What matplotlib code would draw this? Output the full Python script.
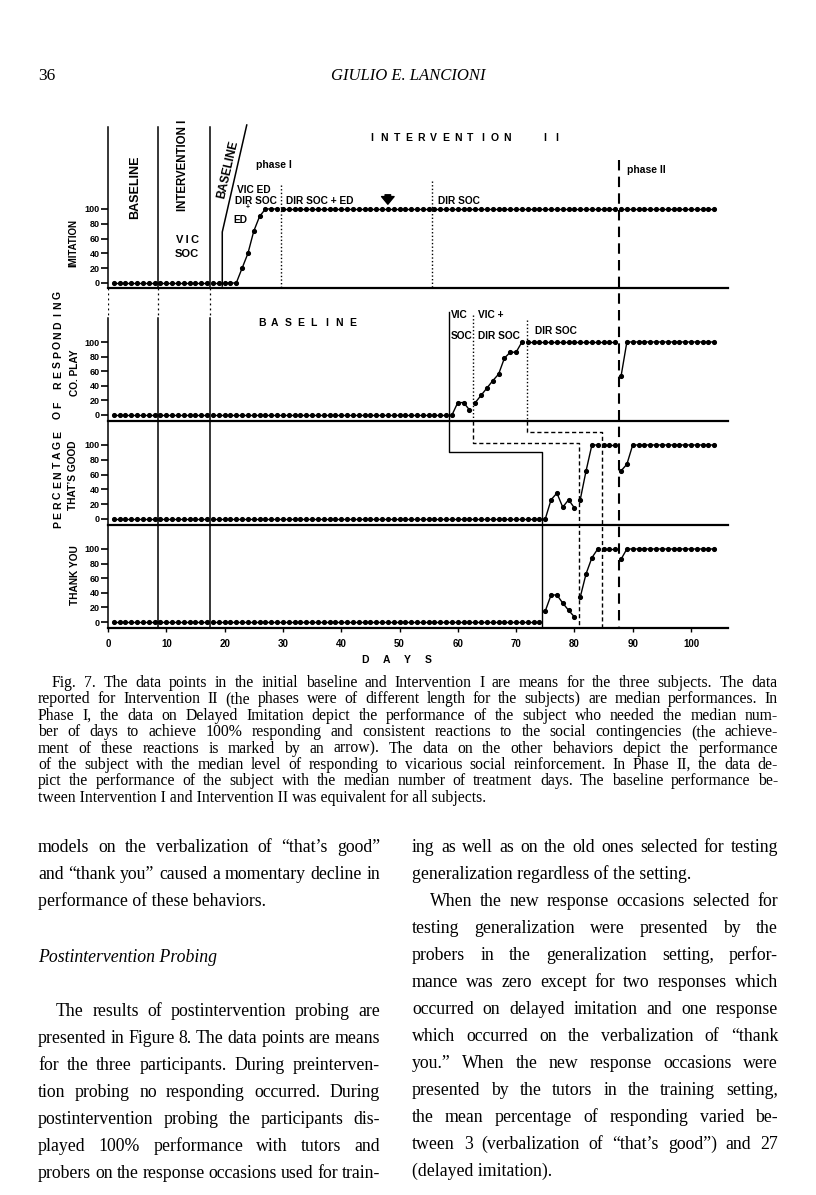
import matplotlib
matplotlib.use("Agg")
import matplotlib.pyplot as plt
import numpy as np

plt.rcParams['font.family'] = ['Liberation Sans', 'DejaVu Sans']
W, H = 816, 1195

# data: one value per session day, days 1..104
days = np.arange(1, 105)
imitation = [0]*22 + [20, 40, 70, 90] + [100]*78
co_play = [0]*58 + [0, 17, 17, 7, 17, 27, 37, 47, 56, 78, 86, 86, 100] + [100]*16 + [53] + [100]*16
thats_good = [0]*75 + [26, 35, 16, 26, 15, 26, 65, 100, 100, 100, 100, 100, 65, 74] + [100]*15
thank_you = [0]*74 + [15, 37, 37, 26, 16, 7, 34, 66, 88, 100, 100, 100, 100, 86] + [100]*16

# phase change days for each behaviour
imit_breaks = [8.5, 17.5, 19.6, 29.6, 55.6, 87.6]
play_breaks = [8.5, 17.5, 58.5, 62.6, 71.8, 87.6]
good_breaks = [8.5, 17.5, 74.5, 80.8, 84.7, 87.6]
thank_breaks = [8.5, 17.5, 74.5, 80.8, 84.7, 87.6]

yticks = [0, 20, 40, 60, 80, 100]
xticks = [0, 10, 20, 30, 40, 50, 60, 70, 80, 90, 100]

# panel layout (pixel row of 0 and of 100 in each panel)
zero = [283, 415, 519, 622]
full = [209, 342, 445, 549]

fig = plt.figure(figsize=(W/100, H/100), dpi=100)
ax = fig.add_axes([108/W, 1-628/H, 620/W, 511/H])
ax.set_xlim(0, 620/5.83)
ax.set_ylim(628, 117)
for s in ['top', 'right', 'left']:
    ax.spines[s].set_visible(False)
ax.spines['bottom'].set_linewidth(1.6)

def ypix(k, v):
    return zero[k] - np.asarray(v, dtype=float)*(zero[k]-full[k])/100.0

def plot_series(k, vals, breaks):
    y = ypix(k, vals)
    edges = [0] + breaks + [200]
    for a, b in zip(edges[:-1], edges[1:]):
        m = (days > a) & (days < b)
        ax.plot(days[m], y[m], '-', color='k', lw=1.0, marker='o', ms=2.7,
                mfc='k', mec='k', clip_on=False)

plot_series(0, imitation, imit_breaks)
plot_series(1, co_play, play_breaks)
plot_series(2, thats_good, good_breaks)
plot_series(3, thank_you, thank_breaks)

# ticks
yt, yl = [], []
for k in range(4):
    for v in yticks:
        yt.append(float(ypix(k, v)))
        yl.append(str(v))
ax.set_yticks(yt)
ax.set_yticklabels(yl)
ax.set_xticks(xticks)
ax.tick_params(axis='y', length=5, width=1.2, pad=1, labelsize=6.5)
ax.tick_params(axis='x', length=3, width=1, pad=5, labelsize=7)
for lb in ax.get_yticklabels() + ax.get_xticklabels():
    lb.set_fontweight('bold')

# phase lines
lk = dict(color='k', lw=1.1, clip_on=False)
dot = (0, (1, 1.6))
dash = (0, (3, 2))
for d in [0, 8.5, 17.5]:
    ax.plot([d, d], [127, 288], **lk)
    ax.plot([d, d], [288, 318], color='k', lw=0.9, ls=(0, (1.5, 2.5)))
    ax.plot([d, d], [318, 628], **lk)
for yy in [288, 421, 525]:
    ax.plot([0, 620/5.83], [yy, yy], color='k', lw=1.6, clip_on=False)
ax.plot([19.6, 19.6, 23.8], [286, 232, 125], **lk)
ax.plot([29.6, 29.6], [185, 288], color='k', lw=1, ls=dot)
ax.plot([55.6, 55.6], [181, 288], color='k', lw=1, ls=dot)
ax.plot([87.6, 87.6], [160, 628], color='k', lw=1.5, ls=(0, (5, 3)))
ax.plot([58.5, 58.5, 74.5, 74.5], [312, 452, 452, 628], color='k', lw=1)
ax.plot([62.6, 62.6], [315, 421], color='k', lw=1, ls=dot)
ax.plot([62.6, 62.6, 80.8, 80.8], [421, 443, 443, 628], color='k', lw=1, ls=dash)
ax.plot([71.8, 71.8], [320, 421], color='k', lw=1, ls=dot)
ax.plot([71.8, 71.8, 84.7, 84.7], [421, 432, 432, 628], color='k', lw=1, ls=dash)
ax.annotate('', xy=(48.0, 207), xytext=(48.0, 192),
            arrowprops=dict(arrowstyle='simple,head_width=0.9,head_length=0.55,tail_width=0.4',
                            fc='k', ec='k'))


def T(x, y, s, **kw):
    kw.setdefault('ha', 'left')
    kw.setdefault('va', 'center')
    return fig.text(x/W, 1 - y/H, s, **kw)


def spaced(s, x0, step, y, vertical=False, **kw):
    for i, ch in enumerate(s):
        if ch == ' ':
            continue
        if vertical:
            T(x0, y - i*step, ch, ha='center', rotation=90, **kw)
        else:
            T(x0 + i*step, y, ch, ha='center', **kw)


b = dict(fontweight='bold')
T(135, 187, 'BASELINE', rotation=90, ha='center', fontsize=9, **b)
T(183, 165, 'INTERVENTION I', rotation=90, ha='center', fontsize=8.3, **b)
T(187, 240, 'V\u2009I\u2009C', ha='center', fontsize=8, **b)
T(187, 254, 'SOC', ha='center', fontsize=8, **b)
T(228, 170, 'BASELINE', rotation=77, ha='center', fontsize=8.5, **b)
T(256, 165, 'phase I', fontsize=7.5, **b)
T(237, 190, 'VIC ED', fontsize=7.3, **b)
T(235, 201, 'DIR SOC', fontsize=7.3, **b)
T(248, 208, '+', ha='center', fontsize=5, **b)
T(233, 220, 'ED', fontsize=7.3, **b)
T(286, 201, 'DIR SOC + ED', fontsize=7.3, **b)
T(438, 201, 'DIR SOC', fontsize=7.3, **b)
spaced('INTERVENTION  II', 372, 12.3, 138, fontsize=7.5, **b)
T(627, 170, 'phase II', fontsize=7.5, **b)
spaced('BASELINE', 262, 12.9, 323, fontsize=7.5, **b)
T(451, 315, 'VIC', fontsize=7.3, **b)
T(451, 336, 'SOC', fontsize=7.3, **b)
T(478, 315, 'VIC +', fontsize=7.3, **b)
T(478, 336, 'DIR SOC', fontsize=7.3, **b)
T(535, 331, 'DIR SOC', fontsize=7.3, **b)
T(73, 243, 'IMITATION', rotation=90, ha='center', fontsize=7, **b)
T(75, 373, 'CO. PLAY', rotation=90, ha='center', fontsize=7.3, **b)
T(73, 475, 'THAT\u2019S GOOD', rotation=90, ha='center', fontsize=7.3, **b)
T(75, 575, 'THANK YOU', rotation=90, ha='center', fontsize=7.3, **b)
spaced('PERCENTAGE OF RESPONDING', 58, 10, 525, vertical=True, fontsize=7.5, **b)
spaced('DAYS', 365, 21, 660, fontsize=7.5, **b)

# page text
serif = ['Liberation Serif', 'DejaVu Serif']
T(38, 80, '36', fontsize=12.5, family=serif, va='baseline')
T(408, 80, 'GIULIO E. LANCIONI', ha='center', fontsize=12, style='italic', family=serif, va='baseline')

renderer = fig.canvas.get_renderer()


def justify(lines, x0, x1, y0, dy, size, indent=0, indent_lines=(), last_lines=(), **kw):
    for i, line in enumerate(lines):
        y = y0 + i*dy
        xs = x0 + (indent if i in indent_lines else 0)
        words = line.split(' ')
        if i in last_lines or len(words) == 1:
            T(xs, y, line, fontsize=size, family=serif, va='baseline', **kw)
            continue
        texts = [T(xs, y, w, fontsize=size, family=serif, va='baseline', **kw) for w in words]
        widths = [t.get_window_extent(renderer).width for t in texts]
        gap = (x1 - xs - sum(widths)) / (len(words) - 1)
        x = xs
        for t, w in zip(texts, widths):
            t.set_x(x / W)
            x += w + gap


caption = [
    "Fig. 7. The data points in the initial baseline and Intervention I are means for the three subjects. The data",
    "reported for Intervention II (the phases were of different length for the subjects) are median performances. In",
    "Phase I, the data on Delayed Imitation depict the performance of the subject who needed the median num-",
    "ber of days to achieve 100% responding and consistent reactions to the social contingencies (the achieve-",
    "ment of these reactions is marked by an arrow). The data on the other behaviors depict the performance",
    "of the subject with the median level of responding to vicarious social reinforcement. In Phase II, the data de-",
    "pict the performance of the subject with the median number of treatment days. The baseline performance be-",
    "tween Intervention I and Intervention II was equivalent for all subjects.",
]
justify(caption, 38, 778, 687, 16.4, 11.3, indent=14, indent_lines=(0,), last_lines=(7,))

left1 = [
    "models on the verbalization of \u201cthat\u2019s good\u201d",
    "and \u201cthank you\u201d caused a momentary decline in",
    "performance of these behaviors.",
]
justify(left1, 38, 380, 852, 27, 12.8, last_lines=(2,))
T(38, 962, 'Postintervention Probing', fontsize=12.8, style='italic', family=serif, va='baseline')
left2 = [
    "The results of postintervention probing are",
    "presented in Figure 8. The data points are means",
    "for the three participants. During preinterven-",
    "tion probing no responding occurred. During",
    "postintervention probing the participants dis-",
    "played 100% performance with tutors and",
    "probers on the response occasions used for train-",
]
justify(left2, 38, 380, 1016, 27, 12.8, indent=18, indent_lines=(0,))
right = [
    "ing as well as on the old ones selected for testing",
    "generalization regardless of the setting.",
    "When the new response occasions selected for",
    "testing generalization were presented by the",
    "probers in the generalization setting, perfor-",
    "mance was zero except for two responses which",
    "occurred on delayed imitation and one response",
    "which occurred on the verbalization of \u201cthank",
    "you.\u201d When the new response occasions were",
    "presented by the tutors in the training setting,",
    "the mean percentage of responding varied be-",
    "tween 3 (verbalization of \u201cthat\u2019s good\u201d) and 27",
    "(delayed imitation).",
]
justify(right, 412, 778, 852, 27, 12.8, indent=18, indent_lines=(2,), last_lines=(1, 12))

fig.savefig('out.png', dpi=100)
